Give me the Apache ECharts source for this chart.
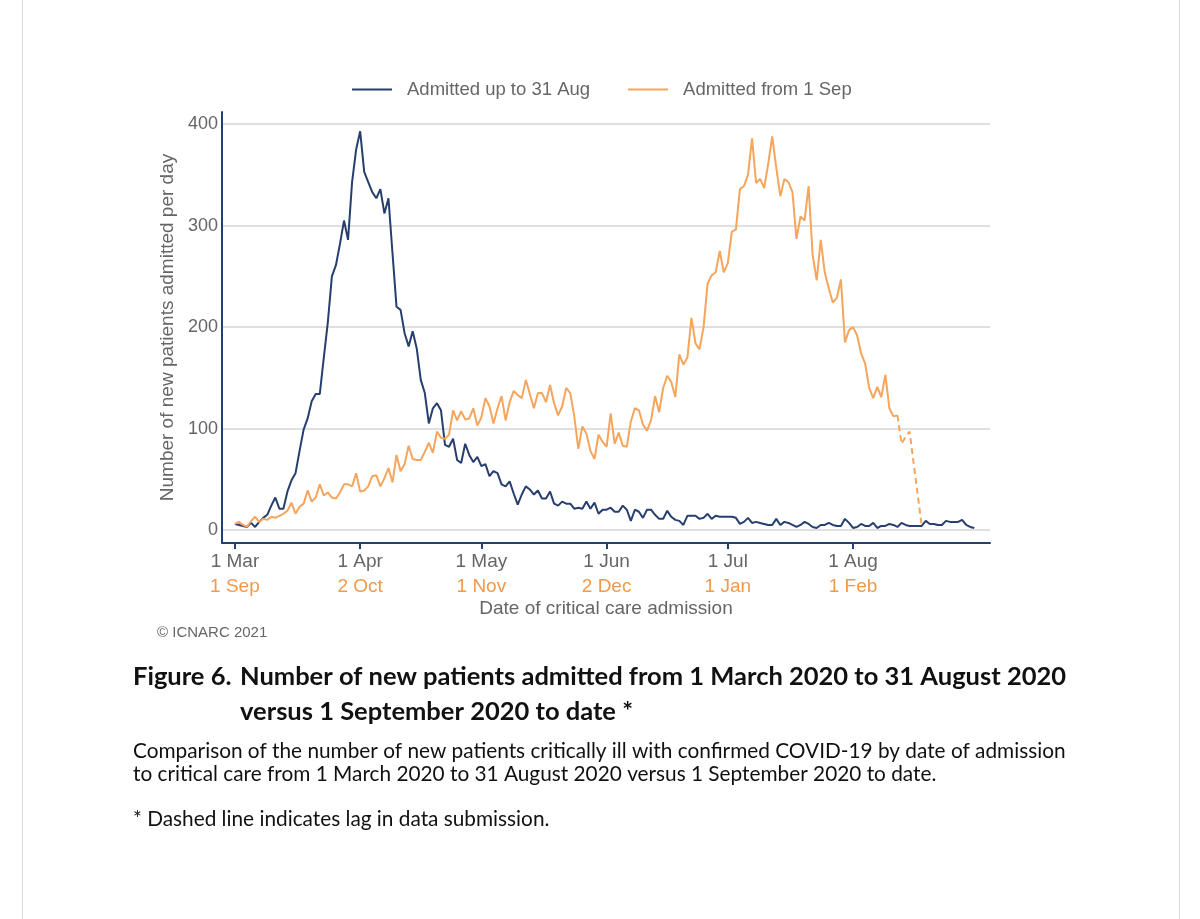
<!DOCTYPE html>
<html>
<head>
<meta charset="utf-8">
<script src="https://cdn.jsdelivr.net/npm/echarts@6/dist/echarts.min.js"></script>
<style>
  html, body { margin: 0; padding: 0; background: #fff; }
  #page { position: absolute; left: 22px; top: 0; width: 1156px; height: 919px;
          border-left: 1px solid #dcdcdc; border-right: 1px solid #dcdcdc; }
  #chart { position: absolute; left: 0; top: 0; width: 1200px; height: 919px; }
</style>
</head>
<body>
<div id="page"></div>
<div id="chart"></div>
<script>
  // day index 0 = 1 Mar (first wave) / 1 Sep (second wave)
  var tickDays = [0, 31, 61, 92, 122, 153]
  var labelsFirstWave = ['1 Mar', '1 Apr', '1 May', '1 Jun', '1 Jul', '1 Aug']
  var labelsSecondWave = ['1 Sep', '2 Oct', '1 Nov', '2 Dec', '1 Jan', '1 Feb']
  var yTicks = [0, 100, 200, 300, 400]

  // Admitted up to 31 Aug, daily from 1 Mar
  var firstWave = [
    6, 5, 4, 3, 7, 3, 8, 12, 15, 24, 32, 21, 21, 38, 49, 56, 78, 99, 110, 127,
    134, 134, 170, 205, 250, 261, 282, 305, 286, 343, 375, 393, 353, 343, 333, 327, 336, 312, 327, 273,
    220, 217, 194, 181, 196, 179, 148, 135, 105, 120, 125, 118, 84, 82, 90, 69, 66, 85, 74, 67,
    72, 63, 65, 53, 58, 56, 45, 43, 48, 36, 25, 35, 43, 40, 35, 39, 31, 31, 38, 26,
    24, 28, 26, 26, 21, 22, 21, 28, 21, 27, 16, 20, 20, 22, 18, 18, 24, 20, 9, 20,
    18, 12, 20, 20, 15, 11, 11, 19, 13, 10, 9, 5, 14, 14, 14, 11, 12, 16, 11, 14,
    13, 13, 13, 13, 12, 6, 8, 12, 7, 8, 7, 6, 5, 5, 11, 5, 8, 7, 5, 3,
    5, 8, 6, 3, 2, 5, 5, 7, 5, 4, 4, 11, 7, 2, 3, 6, 4, 4, 7, 2,
    4, 4, 6, 5, 3, 7, 5, 4, 4, 4, 4, 9, 6, 6, 5, 5, 9, 8, 8, 8,
    10, 5, 3, 2
  ]

  // Admitted from 1 Sep, daily
  var secondWave = [
    6, 8, 5, 3, 9, 13, 8, 11, 10, 13, 12, 14, 16, 19, 27, 16, 23, 26, 39, 28,
    32, 45, 34, 37, 32, 31, 37, 45, 45, 43, 56, 38, 39, 43, 53, 54, 43, 51, 61, 47,
    74, 58, 65, 83, 70, 69, 69, 77, 86, 76, 97, 91, 90, 94, 118, 108, 117, 109, 110, 120,
    103, 111, 130, 122, 105, 120, 132, 108, 126, 137, 133, 130, 148, 134, 120, 135, 135, 126, 143, 125,
    113, 122, 140, 135, 112, 80, 102, 95, 78, 70, 94, 87, 82, 115, 85, 96, 83, 82, 107, 120,
    118, 104, 98, 108, 132, 116, 140, 152, 146, 131, 173, 163, 170, 209, 184, 178, 200, 243, 251, 254,
    275, 254, 263, 294, 296, 336, 339, 350, 386, 342, 346, 337, 361, 388, 357, 329, 346, 343, 333, 287,
    309, 305, 339, 271, 246, 286, 254, 238, 224, 229, 247, 185, 197, 200, 192, 174, 164, 140, 130, 141,
    131, 153, 120, 112, 113, 85, 92, 97, 66, 35, 4
  ]
  var lagStart = 164 // dashed from here on

  var navy = '#273f6e'
  var orange = '#f5a55c'
  var grey = '#666666'
  var font = 'Liberation Sans, Arial, sans-serif'
  var capFont = 'Lato, Open Sans, sans-serif'

  var solidOrange = secondWave.map(function (v, i) { return [i, i <= lagStart ? v : null] })
  var dashedOrange = secondWave.map(function (v, i) { return [i, i >= lagStart ? v : null] })

  var chart = echarts.init(document.getElementById('chart'))
  chart.setOption({
    animation: false,
    textStyle: { fontFamily: font },
    legend: {
      top: 75,
      left: 347,
      data: ['Admitted up to 31 Aug', 'Admitted from 1 Sep'],
      itemWidth: 40,
      itemHeight: 2,
      itemGap: 38,
      icon: 'rect',
      textStyle: { color: grey, fontSize: 18.5, fontFamily: font, padding: [0, 0, 0, 10] }
    },
    grid: { left: 222, right: 210, top: 112, bottom: 376 },
    xAxis: {
      type: 'value',
      min: -3.2,
      max: 186.9,
      name: 'Date of critical care admission',
      nameLocation: 'middle',
      nameGap: 56,
      nameTextStyle: { color: grey, fontSize: 19, fontFamily: font },
      axisLine: { onZero: false, lineStyle: { color: navy, width: 2 } },
      axisTick: { customValues: tickDays, length: 6, lineStyle: { color: navy, width: 2 } },
      splitLine: { show: false },
      axisLabel: {
        customValues: tickDays,
        margin: 6,
        formatter: function (val) {
          var k = tickDays.indexOf(val)
          return '{a|' + labelsFirstWave[k] + '}\n{b|' + labelsSecondWave[k] + '}'
        },
        rich: {
          a: { color: grey, fontSize: 19, lineHeight: 25, fontFamily: font },
          b: { color: '#f29a4a', fontSize: 19, lineHeight: 25, fontFamily: font }
        }
      }
    },
    yAxis: {
      type: 'value',
      min: -12.8,
      max: 412,
      name: 'Number of new patients admitted per day',
      nameLocation: 'middle',
      nameGap: 44,
      nameTextStyle: { color: grey, fontSize: 19, fontFamily: font },
      axisLine: { show: true, onZero: false, lineStyle: { color: navy, width: 2 } },
      axisTick: { show: false, customValues: yTicks },
      axisLabel: { customValues: yTicks, color: grey, fontSize: 18, margin: 4, fontFamily: font },
      splitLine: { lineStyle: { color: '#e0e0e0', width: 2 } }
    },
    series: [
      {
        name: 'Admitted up to 31 Aug',
        type: 'line',
        data: firstWave.map(function (v, i) { return [i, v] }),
        showSymbol: false,
        itemStyle: { color: navy },
        lineStyle: { color: navy, width: 2 }
      },
      {
        name: 'Admitted from 1 Sep',
        type: 'line',
        data: solidOrange,
        showSymbol: false,
        itemStyle: { color: orange },
        lineStyle: { color: orange, width: 2 }
      },
      {
        name: 'lag',
        type: 'line',
        data: dashedOrange,
        showSymbol: false,
        itemStyle: { color: orange },
        lineStyle: { color: orange, width: 2, type: [6, 4] }
      }
    ],
    graphic: [
      { type: 'text', left: 157, top: 625, style: { text: '\u00a9 ICNARC 2021', fill: grey, font: '15px ' + font } },
      { type: 'text', left: 133, top: 664, style: { text: 'Figure 6.', fill: '#111', font: 'bold 25.5px ' + capFont } },
      { type: 'text', left: 240, top: 664, style: { text: 'Number of new patients admitted from 1 March 2020 to 31 August 2020', fill: '#111', font: 'bold 25.5px ' + capFont } },
      { type: 'text', left: 240, top: 699, style: { text: 'versus 1 September 2020 to date *', fill: '#111', font: 'bold 25.5px ' + capFont } },
      { type: 'text', left: 133, top: 741, style: { text: 'Comparison of the number of new patients critically ill with confirmed COVID-19 by date of admission', fill: '#111', font: '20.8px ' + capFont } },
      { type: 'text', left: 133, top: 764, style: { text: 'to critical care from 1 March 2020 to 31 August 2020 versus 1 September 2020 to date.', fill: '#111', font: '20.8px ' + capFont } },
      { type: 'text', left: 133, top: 809, style: { text: '* Dashed line indicates lag in data submission.', fill: '#111', font: '20.8px ' + capFont } }
    ]
  })
</script>
</body>
</html>
